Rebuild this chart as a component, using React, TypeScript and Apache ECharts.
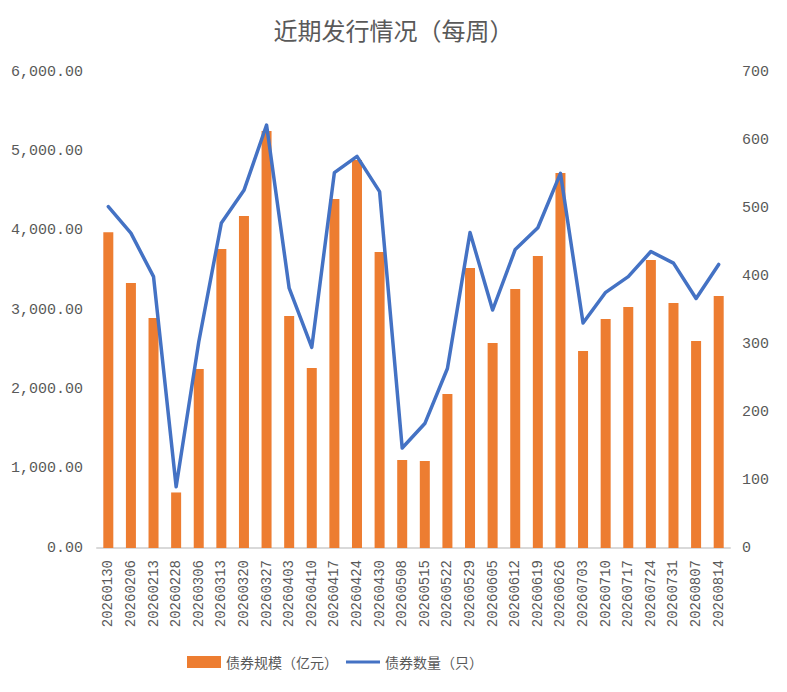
import * as echarts from 'echarts';
import type { ECharts, EChartsOption } from 'echarts';
import React, { useEffect, useRef } from 'react';

const weeks = [
  '20260130', '20260206', '20260213', '20260228', '20260306', '20260313', '20260320',
  '20260327', '20260403', '20260410', '20260417', '20260424', '20260430', '20260508',
  '20260515', '20260522', '20260529', '20260605', '20260612', '20260619', '20260626',
  '20260703', '20260710', '20260717', '20260724', '20260731', '20260807', '20260814',
];

// 债券规模（亿元）
const scale = [
  3980, 3340, 2900, 700, 2256, 3769, 4185,
  5256, 2924, 2269, 4399, 4891, 3731, 1109,
  1097, 1941, 3529, 2584, 3265, 3681, 4727,
  2483, 2887, 3038, 3630, 3088, 2609, 3177,
];

// 债券数量（只）
const count = [
  502, 463, 399, 90, 303, 478, 526,
  622, 382, 295, 552, 576, 524, 147,
  183, 264, 464, 350, 439, 471, 551,
  331, 376, 399, 436, 419, 367, 417,
];

const textColor = '#595959';
const numFont = "'Liberation Mono', 'Noto Sans CJK SC', monospace";
const cjkFont = "'Noto Sans CJK SC', sans-serif";
// thin horizontal band inside a 34x12 box, so the legend keeps it as a line
const lineIcon = 'path://M0,0 M34,12 M0,4.5 L34,4.5 L34,7.5 L0,7.5 Z';

const App: React.FC = () => {
  const chartRef = useRef<HTMLDivElement>(null);
  const chartInstance = useRef<ECharts | null>(null);

  useEffect(() => {
    if (chartRef.current) {
      chartInstance.current = echarts.init(chartRef.current, undefined, { renderer: 'svg' });

      const option: EChartsOption = {
        animation: false,
        title: {
          text: '近期发行情况（每周）',
          left: 'center',
          top: 4,
          textStyle: {
            fontFamily: cjkFont,
            fontSize: 24,
            fontWeight: 'normal',
            color: textColor,
          },
        },
        grid: {
          left: 88,
          right: 49,
          top: 64,
          bottom: 136,
        },
        legend: {
          bottom: 10,
          left: 174,
          itemGap: 8,
          itemWidth: 34,
          itemHeight: 12,
          textStyle: {
            fontFamily: cjkFont,
            fontSize: 14,
            color: textColor,
          },
          data: [
            { name: '债券规模（亿元）', icon: 'rect' },
            { name: '债券数量（只）', icon: lineIcon },
          ],
        },
        xAxis: {
          type: 'category',
          data: weeks,
          axisLine: { lineStyle: { color: '#D9D9D9', width: 2 } },
          axisTick: { show: false },
          axisLabel: {
            rotate: 90,
            interval: 0,
            margin: 12,
            fontFamily: numFont,
            fontSize: 14,
            color: textColor,
          },
        },
        yAxis: [
          {
            type: 'value',
            min: 0,
            max: 6000,
            interval: 1000,
            splitLine: { show: false },
            axisLine: { show: false },
            axisTick: { show: false },
            axisLabel: {
              margin: 14,
              fontFamily: numFont,
              fontSize: 15,
              color: textColor,
              formatter: (v: number) =>
                v.toLocaleString('en-US', { minimumFractionDigits: 2, maximumFractionDigits: 2 }),
            },
          },
          {
            type: 'value',
            min: 0,
            max: 700,
            interval: 100,
            splitLine: { show: false },
            axisLine: { show: false },
            axisTick: { show: false },
            axisLabel: {
              margin: 12,
              fontFamily: numFont,
              fontSize: 15,
              color: textColor,
            },
          },
        ],
        series: [
          {
            name: '债券规模（亿元）',
            type: 'bar',
            data: scale,
            barWidth: 10,
            itemStyle: { color: '#ED7D31' },
          },
          {
            name: '债券数量（只）',
            type: 'line',
            yAxisIndex: 1,
            data: count,
            symbol: 'none',
            lineStyle: { color: '#4472C4', width: 3.5, cap: 'round', join: 'round' },
            itemStyle: { color: '#4472C4' },
          },
        ],
      };

      chartInstance.current.setOption(option);
    }

    return () => {
      if (chartInstance.current) {
        chartInstance.current.dispose();
        chartInstance.current = null;
      }
    };
  }, []);

  return <div ref={chartRef} style={{ width: '771px', height: '676px' }} />;
};

export default App;
